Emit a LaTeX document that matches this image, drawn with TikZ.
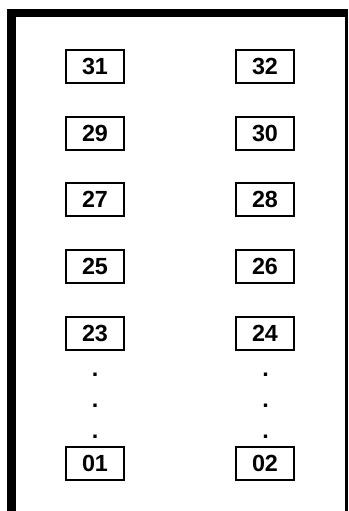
\documentclass[tikz,border=0pt]{standalone}
\usepackage{fontspec}
\setmainfont{Liberation Sans}
\usetikzlibrary{positioning}

\begin{document}
\begin{tikzpicture}[
    x=0.75pt, y=-0.75pt,
    node distance=23.75pt and 82.5pt,
    every node/.style={font=\fontsize{17.5}{17.5}\selectfont\bfseries},
    slot/.style={draw, line width=1.5pt, minimum width=43.5pt, minimum height=24.75pt, inner sep=0pt},
    vdot/.style={inner sep=0pt}
]
\useasboundingbox (0,0) rectangle (349,511);
% ----- frame: heavy top and left edge, thin right edge -----
\fill (7,9) rectangle (348,17);
\fill (7,9) rectangle (16,511);
\fill (345,9) rectangle (348,511);
% ----- left column -----
\node[slot] (b31) at (95,66.5) {31};
\node[slot, below=of b31] (b29) {29};
\node[slot, below=of b29] (b27) {27};
\node[slot, below=of b27] (b25) {25};
\node[slot, below=of b25] (b23) {23};
\node[slot] (b01) at (95,463) {01};
% ----- right column -----
\node[slot, right=of b31] (b32) {32};
\node[slot, right=of b29] (b30) {30};
\node[slot, right=of b27] (b28) {28};
\node[slot, right=of b25] (b26) {26};
\node[slot, right=of b23] (b24) {24};
\node[slot, right=of b01] (b02) {02};
% ----- dots between 23/24 and 01/02 -----
\node[vdot] (ldot1) at (95,375) {.};
\node[vdot] (ldot2) at (95,406) {.};
\node[vdot] (ldot3) at (95,437) {.};
\node[vdot] (rdot1) at (265.5,375) {.};
\node[vdot] (rdot2) at (265.5,406) {.};
\node[vdot] (rdot3) at (265.5,437) {.};
\end{tikzpicture}
\end{document}
